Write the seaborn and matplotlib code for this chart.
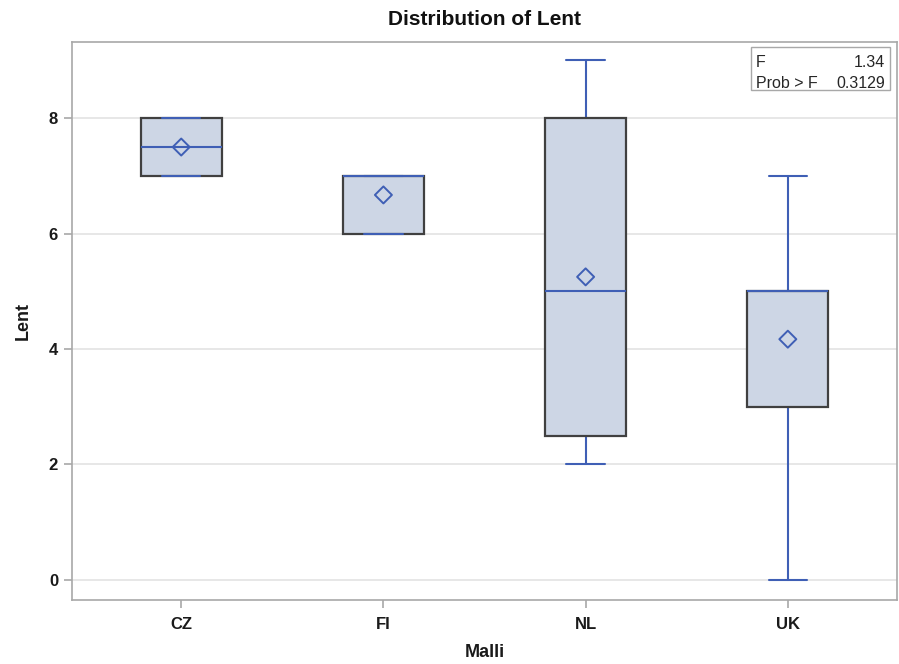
import matplotlib
matplotlib.use("Agg")
import matplotlib.pyplot as plt
import seaborn as sns
import numpy as np

categories = ["CZ", "FI", "NL", "UK"]
q1 = [7.0, 6.0, 2.5, 3.0]
medians = [7.5, 7.0, 5.0, 5.0]
q3 = [8.0, 7.0, 8.0, 5.0]
whisk_lo = [7.0, 6.0, 2.0, 0.0]
whisk_hi = [8.0, 7.0, 9.0, 7.0]
means = [7.5, 6.67, 5.25, 4.17]
y_ticks = [0, 2, 4, 6, 8]
f_value = "1.34"
p_value = "0.3129"

sns.set_style("white")
plt.rcParams["font.family"] = ["Liberation Sans", "DejaVu Sans"]

fig = plt.figure(figsize=(8.99, 6.64), dpi=100)
ax = fig.add_axes([0.0801, 0.0964, 0.9177, 0.8403])

blue = "#3F5FB5"
fill = "#CDD6E5"
edge = "#404040"

stats = []
for i, c in enumerate(categories):
    stats.append(dict(label=c, q1=q1[i], med=medians[i], q3=q3[i],
                      whislo=whisk_lo[i], whishi=whisk_hi[i], mean=means[i], fliers=[]))

ax.bxp(stats, positions=range(len(categories)), widths=0.4, patch_artist=True,
       showmeans=False, showfliers=False,
       boxprops=dict(facecolor=fill, edgecolor=edge, linewidth=1.6, zorder=2),
       medianprops=dict(color=blue, linewidth=1.5, zorder=4),
       whiskerprops=dict(color=blue, linewidth=1.5, zorder=1),
       capprops=dict(color=blue, linewidth=1.5, zorder=4),
       capwidths=0.19)

sns.scatterplot(x=list(range(len(categories))), y=means, marker="D", s=75,
                facecolor="none", edgecolor=blue, linewidth=1.4, ax=ax, zorder=5)

ax.set_xlim(-0.54, 3.54)
ax.set_ylim(-0.35, 9.32)
ax.set_yticks(y_ticks)
ax.set_yticklabels([str(t) for t in y_ticks])
ax.set_xticks(range(len(categories)))
ax.set_xticklabels(categories)
ax.yaxis.grid(True, color="#E3E3E3", linewidth=1.2, zorder=0)
ax.set_axisbelow(True)

for s in ax.spines.values():
    s.set_color("#A8A8A8")
    s.set_linewidth(1.2)
ax.tick_params(axis="both", which="both", direction="out", length=6, width=1.2,
               color="#A8A8A8", labelsize=12, labelcolor="#1A1A1A", bottom=True, left=True)
ax.tick_params(axis="x", pad=6)
ax.tick_params(axis="y", pad=4)
for lab in ax.get_xticklabels() + ax.get_yticklabels():
    lab.set_fontweight("bold")

ax.set_xlabel("Malli", fontsize=13, fontweight="bold", labelpad=9, color="#1A1A1A")
ax.set_ylabel("Lent", fontsize=13, fontweight="bold", labelpad=12, color="#1A1A1A")
ax.set_title("Distribution of Lent", fontsize=15, fontweight="bold", pad=12, color="#111111")

# statistics inset
tb_left, tb_right = 0.823, 0.9915
tb_top, tb_bot = 0.991, 0.914
ax.add_patch(plt.Rectangle((tb_left, tb_bot), tb_right - tb_left, tb_top - tb_bot,
                           transform=ax.transAxes, facecolor="white", edgecolor="#A8A8A8",
                           linewidth=1.0, zorder=6))
fs = 11.5
ax.text(tb_left + 0.006, 0.964, "F", transform=ax.transAxes, fontsize=fs, va="center", ha="left", zorder=7)
ax.text(tb_right - 0.006, 0.964, f_value, transform=ax.transAxes, fontsize=fs, va="center", ha="right", zorder=7)
ax.text(tb_left + 0.006, 0.9265, "Prob > F", transform=ax.transAxes, fontsize=fs, va="center", ha="left", zorder=7)
ax.text(tb_right - 0.006, 0.9265, p_value, transform=ax.transAxes, fontsize=fs, va="center", ha="right", zorder=7)

fig.savefig("out.png", dpi=100)
